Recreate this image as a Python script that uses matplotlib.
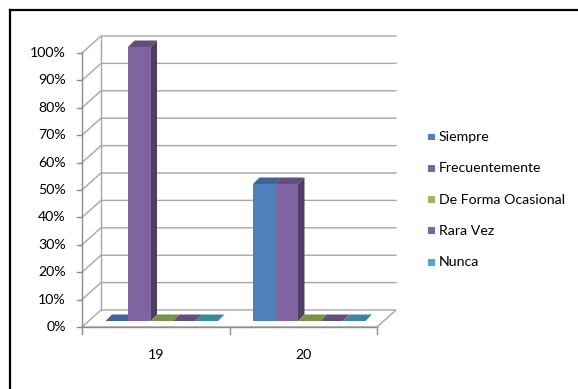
import matplotlib
matplotlib.use('Agg')
import matplotlib.pyplot as plt
from matplotlib.patches import Polygon, Rectangle
from matplotlib.lines import Line2D
import matplotlib.colors as mcolors
import numpy as np

# ---------------- data ----------------
categories = ['19', '20']
series_names = ['Siempre', 'Frecuentemente', 'De Forma Ocasional', 'Rara Vez', 'Nunca']
siempre = [0, 50]
frecuentemente = [100, 50]
de_forma_ocasional = [0, 0]
rara_vez = [0, 0]
nunca = [0, 0]
series_values = [siempre, frecuentemente, de_forma_ocasional, rara_vez, nunca]
series_colors = ['#4F81BD', '#8064A2', '#9BBB59', '#8064A2', '#4BACC6']
y_ticks = [0, 10, 20, 30, 40, 50, 60, 70, 80, 90, 100]
y_tick_labels = ['0%', '10%', '20%', '30%', '40%', '50%', '60%', '70%', '80%', '90%', '100%']

# ---------------- layout ----------------
W, H = 578, 389
DPI = 100
fig = plt.figure(figsize=(W / DPI, H / DPI), dpi=DPI)
fig.patch.set_facecolor('white')

ax_l, ax_r, ax_b, ax_t = 82, 377, 327, 53   # pixel box of the front plane
ax = fig.add_axes([ax_l / W, (H - ax_b) / H, (ax_r - ax_l) / W, (ax_b - ax_t) / H])
ax.set_xlim(-0.5, len(categories) - 0.5)
ax.set_ylim(0, 100)
ax.axis('off')

px_x = (len(categories)) / (ax_r - ax_l)   # data units per pixel (x)
px_y = 100 / (ax_b - ax_t)                 # data units per pixel (y)

back_dx, back_dy = 19 * px_x, 17 * px_y    # back wall offset
bf_dx, bf_dy = 6 * px_x, 6 * px_y          # bar front-face offset
bd_dx, bd_dy = 6.5 * px_x, 6.5 * px_y      # bar depth

grid_c = '#A6A6A6'
axis_c = '#8C8C8C'
font = ['Lato', 'DejaVu Sans']
fs = 10.2
txt_c = '#000000'
x0, x1 = -0.5, len(categories) - 0.5

# floor
ax.add_patch(Polygon([(x0, 0), (x1, 0), (x1 + back_dx, back_dy), (x0 + back_dx, back_dy)],
                     closed=True, facecolor='white', edgecolor=grid_c, lw=1.0,
                     clip_on=False, zorder=1))
# gridlines (side wall diagonal + back wall)
for v in y_ticks[1:]:
    ax.add_line(Line2D([x0, x0 + back_dx, x1 + back_dx], [v, v + back_dy, v + back_dy],
                       color=grid_c, lw=1.0, clip_on=False, zorder=1))
# back wall vertical edge
ax.add_line(Line2D([x0 + back_dx, x0 + back_dx], [back_dy, 100 + back_dy],
                   color=grid_c, lw=1.0, clip_on=False, zorder=1))

# y axis
ax.add_line(Line2D([x0, x0], [0, 100], color=axis_c, lw=1.0, clip_on=False, zorder=2))
for v, lab in zip(y_ticks, y_tick_labels):
    ax.add_line(Line2D([x0 - 5 * px_x, x0], [v, v], color=axis_c, lw=1.0, clip_on=False, zorder=2))
    ax.text(x0 - 16 * px_x, v, lab, ha='right', va='center', fontsize=fs,
            family=font, color=txt_c)
# x axis
ax.add_line(Line2D([x0, x1], [0, 0], color=axis_c, lw=1.0, clip_on=False, zorder=2))
for k in range(len(categories) + 1):
    xb = x0 + k
    ax.add_line(Line2D([xb, xb], [0, -7 * px_y], color=axis_c, lw=1.0, clip_on=False, zorder=2))
for i, c in enumerate(categories):
    ax.text(i, -28 * px_y, c, ha='center', va='center', fontsize=fs, family=font, color=txt_c)


def shade(col, f):
    r, g, b = mcolors.to_rgb(col)
    return (r * f, g * f, b * f)


# bars
n = len(series_names)
bw = 22.5 * px_x
z = 5
for ci in range(len(categories)):
    for si in range(n):
        v = series_values[si][ci]
        col = series_colors[si]
        xl = ci + (si - n / 2) * bw + bf_dx
        xr = xl + bw
        yb = bf_dy
        yt = bf_dy + v
        # side face
        if v > 0:
            ax.add_patch(Polygon([(xr, yb), (xr, yt), (xr + bd_dx, yt + bd_dy), (xr + bd_dx, yb + bd_dy)],
                                 closed=True, facecolor=shade(col, 0.62), edgecolor='none',
                                 clip_on=False, zorder=z))
        # top face
        ax.add_patch(Polygon([(xl, yt), (xr, yt), (xr + bd_dx, yt + bd_dy), (xl + bd_dx, yt + bd_dy)],
                             closed=True, facecolor=shade(col, 0.78), edgecolor='none',
                             clip_on=False, zorder=z))
        # front face
        if v > 0:
            ax.bar(xl, v, width=bw, bottom=yb, align='edge', color=col, edgecolor='none',
                   clip_on=False, zorder=z + 0.5)
        z += 1

# legend
leg_y0 = 137
leg_step = 31.3
for si, name in enumerate(series_names):
    yc = leg_y0 + si * leg_step
    fig.patches.append(Rectangle((428 / W, (H - yc - 3.5) / H), 7 / W, 7 / H,
                                 transform=fig.transFigure, facecolor=series_colors[si],
                                 edgecolor='none'))
    fig.text(439 / W, (H - yc) / H, name, ha='left', va='center', fontsize=fs,
             family=font, color=txt_c)

# outer border (top and left edges visible)
fig.add_artist(Line2D([10 / W, 10 / W], [0, (H - 10) / H], transform=fig.transFigure,
                      color='black', lw=1.6))
fig.add_artist(Line2D([10 / W, 1], [(H - 10) / H, (H - 10) / H], transform=fig.transFigure,
                      color='black', lw=1.6))

fig.savefig('out.png', dpi=DPI, facecolor='white')
